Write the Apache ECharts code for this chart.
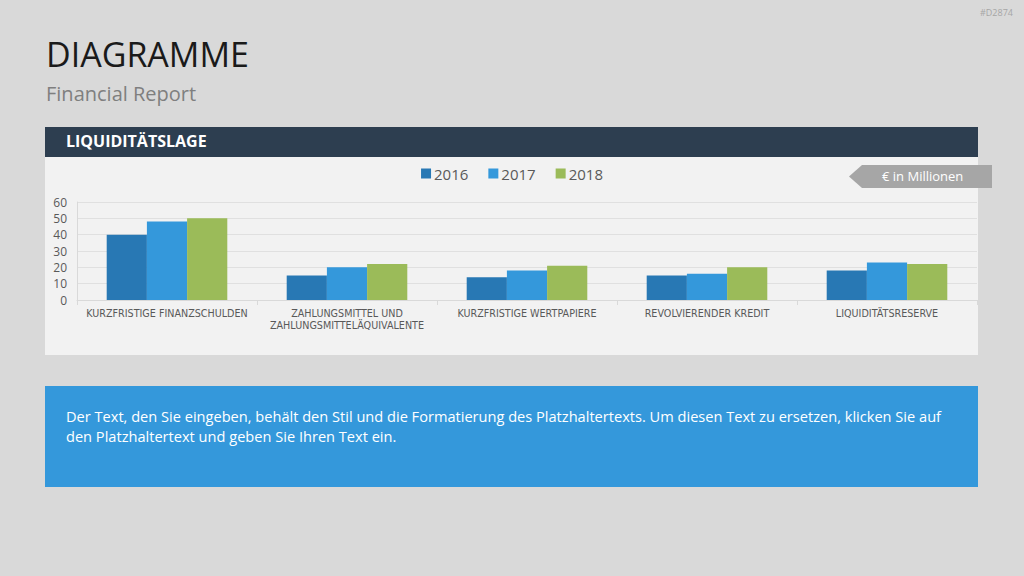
<!DOCTYPE html>
<html><head><meta charset="utf-8">
<script src="https://cdn.jsdelivr.net/npm/echarts@6/dist/echarts.min.js"></script>
<style>html,body{margin:0;padding:0;background:#d9d9d9;}#c{width:1024px;height:576px;}</style>
</head><body><div id="c"></div>
<script>
const categories = ['KURZFRISTIGE FINANZSCHULDEN', 'ZAHLUNGSMITTEL UND\nZAHLUNGSMITTELÄQUIVALENTE', 'KURZFRISTIGE WERTPAPIERE', 'REVOLVIERENDER KREDIT', 'LIQUIDITÄTSRESERVE'];
const seriesNames = ['2016', '2017', '2018'];
const values2016 = [40, 15, 14, 15, 18];
const values2017 = [48, 20, 18, 16, 23];
const values2018 = [50, 22, 21, 20, 22];
const colors = ['#2878b4', '#3498db', '#9bbb59'];
const font = '"Open Sans", "Noto Sans", sans-serif';

const chart = echarts.init(document.getElementById('c'), null, {renderer: 'svg'});
const data = [values2016, values2017, values2018];
chart.setOption({
  backgroundColor: '#d9d9d9',
  animation: false,
  textStyle: {fontFamily: font},
  graphic: [
    {type: 'text', left: 980, top: 8, style: {text: '#D2874', fill: '#a6a6a6', font: '9px ' + font}},
    {type: 'text', left: 46, top: 37, style: {text: 'DIAGRAMME', fill: '#1a1a1a', font: '34px ' + font}},
    {type: 'text', left: 46, top: 83, style: {text: 'Financial Report', fill: '#7f7f7f', font: '20px ' + font}},
    {type: 'rect', z: -10, shape: {x: 45, y: 127, width: 933, height: 30}, style: {fill: '#2d3e50'}},
    {type: 'rect', z: -10, shape: {x: 45, y: 157, width: 933, height: 198}, style: {fill: '#f2f2f2'}},
    {type: 'text', left: 66, top: 133, style: {text: 'LIQUIDITÄTSLAGE', fill: '#ffffff', font: 'bold 16px ' + font}},
    {type: 'polygon', z: 5, shape: {points: [[849, 176.5], [862, 165], [992, 165], [992, 188], [862, 188]]}, style: {fill: '#a6a6a6'}},
    {type: 'text', z: 6, left: 882, top: 169, style: {text: '€ in Millionen', fill: '#ffffff', font: '13px ' + font}},
    {type: 'rect', z: -10, shape: {x: 45, y: 386, width: 933, height: 101}, style: {fill: '#3498db'}},
    {type: 'text', left: 66, top: 406, style: {text: 'Der Text, den Sie eingeben, behält den Stil und die Formatierung des Platzhaltertexts. Um diesen Text zu ersetzen, klicken Sie auf\nden Platzhaltertext und geben Sie Ihren Text ein.', fill: '#ffffff', font: '14.6px ' + font, lineHeight: 20}}
  ],
  legend: {
    top: 161, left: 'center',
    itemWidth: 10, itemHeight: 10, itemGap: 20,
    icon: 'rect',
    textStyle: {color: '#595959', fontSize: 15, fontFamily: font, padding: [0, 0, 0, -2]},
    data: seriesNames
  },
  grid: {left: 77, right: 47, top: 202, bottom: 276, containLabel: false},
  xAxis: {
    type: 'category', data: categories,
    axisLine: {lineStyle: {color: '#d9d9d9'}},
    axisTick: {show: true, lineStyle: {color: '#d9d9d9'}, length: 5},
    axisLabel: {color: '#595959', fontSize: 9.6, fontFamily: '"DejaVu Sans", sans-serif', margin: 7, lineHeight: 12, interval: 0}
  },
  yAxis: {
    type: 'value', min: 0, max: 60, interval: 10,
    axisLine: {show: true, lineStyle: {color: '#d9d9d9'}},
    axisTick: {show: false},
    splitLine: {lineStyle: {color: '#e0e0e0'}},
    axisLabel: {color: '#595959', fontSize: 12, fontFamily: font, margin: 10}
  },
  series: seriesNames.map((n, i) => ({
    name: n, type: 'bar', data: data[i],
    barGap: '0%', barCategoryGap: '33%',
    itemStyle: {color: colors[i]}
  }))
});
</script></body></html>
